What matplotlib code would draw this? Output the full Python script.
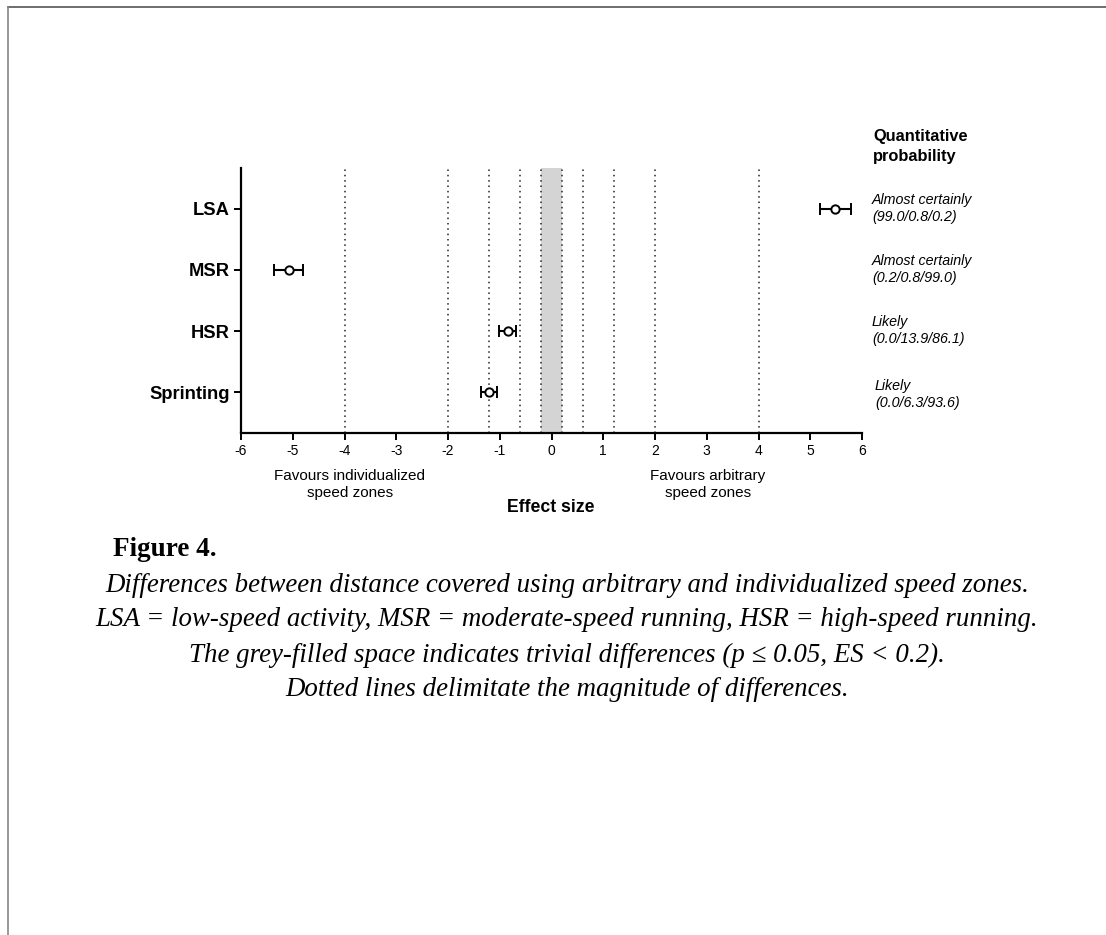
import matplotlib
matplotlib.use("Agg")
import matplotlib.pyplot as plt
from matplotlib.lines import Line2D

categories = ["LSA", "MSR", "HSR", "Sprinting"]
effect = [5.48, -5.08, -0.85, -1.21]
ci_half = [0.30, 0.28, 0.16, 0.15]
prob_label = ["Almost certainly", "Almost certainly", "Likely", "Likely"]
prob_values = ["(99.0/0.8/0.2)", "(0.2/0.8/99.0)", "(0.0/13.9/86.1)", "(0.0/6.3/93.6)"]
threshold_lines = [-4, -2, -1.2, -0.6, -0.2, 0.2, 0.6, 1.2, 2, 4]
trivial_band = (-0.2, 0.2)
xticks = list(range(-6, 7))

caption_title = "Figure 4."
caption_lines = [
    "Differences between distance covered using arbitrary and individualized speed zones.",
    "LSA = low-speed activity, MSR = moderate-speed running, HSR = high-speed running.",
    "The grey-filled space indicates trivial differences (p \u2264 0.05, ES < 0.2).",
    "Dotted lines delimitate the magnitude of differences.",
]

W, H = 1106, 935
fig = plt.figure(figsize=(W / 100, H / 100), dpi=100)
plt.rcParams['font.family'] = ['Liberation Sans', 'DejaVu Sans']

ax = fig.add_axes([241 / W, 1 - 433 / H, (862 - 241) / W, (433 - 168) / H])
ypos = list(range(len(categories)))

ax.axvspan(trivial_band[0], trivial_band[1], color="#d4d4d4", zorder=0, lw=0)
for t in threshold_lines:
    ax.axvline(t, color="#222222", ls=(0, (1, 2.5)), lw=1.1, zorder=1)

ax.errorbar(effect, ypos, xerr=ci_half, fmt="o", mfc="white", mec="black",
            ms=6, mew=1.4, ecolor="black", elinewidth=1.5, capsize=4, capthick=1.5,
            zorder=3)

ax.set_xlim(-6, 6)
ax.set_ylim(len(categories) - 1 + 0.67, -0.67)
ax.set_xticks(xticks)
ax.set_xticklabels([str(x) for x in xticks], fontsize=10)
ax.set_yticks(ypos)
ax.set_yticklabels(categories, fontsize=13.2, fontweight="bold")
for s in ["top", "right"]:
    ax.spines[s].set_visible(False)
for s in ["left", "bottom"]:
    ax.spines[s].set_linewidth(1.6)
ax.tick_params(axis="both", direction="out", length=5, width=1.4, pad=3)

# right side annotations
fig.text(873 / W, 1 - 137 / H, "Quantitative", fontsize=11.8, fontweight="bold", va="center")
fig.text(873 / W, 1 - 156 / H, "probability", fontsize=11.8, fontweight="bold", va="center")
for i, (a, b) in enumerate(zip(prob_label, prob_values)):
    yc = 209 + 61 * i
    xo = 872 if i < 3 else 875
    extra = 0 if i < 3 else 3
    fig.text(xo / W, 1 - (yc - 9 + extra) / H, a, fontsize=10.3, style="italic", va="center")
    fig.text(xo / W, 1 - (yc + 8 + extra) / H, b, fontsize=10.3, style="italic", va="center")

# bottom labels
fig.text(350 / W, 1 - 476 / H, "Favours individualized", fontsize=11, ha="center", va="center")
fig.text(350 / W, 1 - 493 / H, "speed zones", fontsize=11, ha="center", va="center")
fig.text(708 / W, 1 - 476 / H, "Favours arbitrary", fontsize=11, ha="center", va="center")
fig.text(708 / W, 1 - 493 / H, "speed zones", fontsize=11, ha="center", va="center")
fig.text(551 / W, 1 - 508 / H, "Effect size", fontsize=12.7, fontweight="bold", ha="center", va="center")

# caption
serif = ['Liberation Serif', 'DejaVu Serif']
fig.text(113 / W, 1 - 550 / H, caption_title, fontsize=19.5, fontweight="bold",
         family=serif, va="center")
cap_texts = []
for i, line in enumerate(caption_lines):
    t = fig.text(567 / W, 1 - (585 + 35 * i) / H, line, fontsize=15.5, style="italic",
                 family=serif, ha="center", va="center")
    cap_texts.append(t)
renderer = fig.canvas.get_renderer()
w2 = cap_texts[1].get_window_extent(renderer).width
scale = 938 / w2
for t in cap_texts:
    t.set_fontsize(15.5 * scale)

# page border lines
fig.add_artist(Line2D([8 / W, 1], [1 - 7 / H, 1 - 7 / H], transform=fig.transFigure,
                      color="#555555", lw=1.2))
fig.add_artist(Line2D([8 / W, 8 / W], [0, 1 - 7 / H], transform=fig.transFigure,
                      color="#888888", lw=1.2))

fig.savefig("out.png", dpi=100)
